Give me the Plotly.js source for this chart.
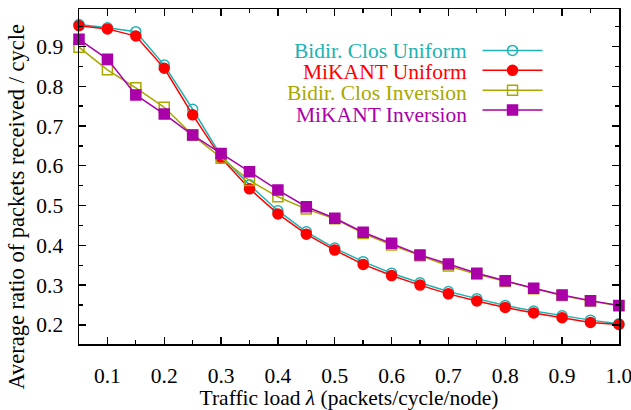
<!DOCTYPE html>
<html>
<head>
<meta charset="utf-8">
<script src="https://cdn.plot.ly/plotly-3.0.1.min.js"></script>
<style>
html,body{margin:0;padding:0;background:#fff;}
#chart{width:631px;height:410px;}
#chart text{font-family:"Times New Roman","Liberation Serif","DejaVu Serif",serif !important;}
</style>
</head>
<body>
<div id="chart"></div>
<script>
const load = [0.05,0.10,0.15,0.20,0.25,0.30,0.35,0.40,0.45,0.50,0.55,0.60,0.65,0.70,0.75,0.80,0.85,0.90,0.95,1.00];
const closUniform   = [0.955,0.947,0.937,0.853,0.742,0.625,0.552,0.487,0.434,0.393,0.359,0.330,0.306,0.284,0.266,0.249,0.235,0.223,0.212,0.203];
const mikantUniform = [0.952,0.944,0.926,0.845,0.728,0.620,0.542,0.479,0.428,0.388,0.352,0.324,0.300,0.278,0.260,0.244,0.230,0.218,0.206,0.201];
const closInversion = [0.898,0.841,0.796,0.747,0.677,0.619,0.563,0.522,0.491,0.467,0.430,0.401,0.374,0.348,0.327,0.309,0.291,0.274,0.260,0.248];
const mikantInversion=[0.918,0.868,0.778,0.730,0.677,0.631,0.585,0.539,0.497,0.468,0.433,0.405,0.376,0.353,0.330,0.311,0.292,0.275,0.261,0.249];
const seriesNames = ["Bidir. Clos Uniform","MiKANT Uniform","Bidir. Clos Inversion","MiKANT Inversion"];
const xTicks = [0.1,0.2,0.3,0.4,0.5,0.6,0.7,0.8,0.9,1.0];
const yTicks = [0.2,0.3,0.4,0.5,0.6,0.7,0.8,0.9];

const colors = ["#20b2b2","#ff0000","#a8a800","#aa00aa"];
const symbols = ["circle-open","circle","square-open","square"];
const sizes = [10,10,10,10];
const data = [closUniform, mikantUniform, closInversion, mikantInversion];

const traces = data.map((ys,i)=>({
  x: load, y: ys, type:"scatter", mode:"lines+markers",
  name: " ", cliponaxis:false,
  line:{color:colors[i], width:1.5},
  marker:{symbol:symbols[i], size:sizes[i], color:colors[i], line:{color:colors[i], width:1.5}},
  showlegend:true
}));

const serif = "Times New Roman";
const legendRowsY = [0.8755,0.811,0.7484,0.6836];
const annotations = seriesNames.map((t,i)=>({
  text:t, xref:"paper", yref:"paper", x:0.7222, y:legendRowsY[i],
  xanchor:"right", yanchor:"middle", showarrow:false,
  font:{family:serif, size:21.5, color:colors[i]}
}));
annotations.push({
  text:"Average ratio of packets received / cycle", xref:"paper", yref:"paper",
  x:-0.115, y:0.41, xanchor:"center", yanchor:"middle", showarrow:false, textangle:-90,
  font:{family:serif, size:22.5, color:"#000"}
});

const layout = {
  width:631, height:410,
  margin:{l:79, r:12, t:9, b:66},
  paper_bgcolor:"#fff", plot_bgcolor:"#fff",
  font:{family:serif, size:21.5, color:"#000"},
  showlegend:true,
  legend:{x:0.738, y:0.921, xanchor:"left", yanchor:"top", itemwidth:60,
          font:{family:serif, size:13}, bgcolor:"rgba(0,0,0,0)", borderwidth:0, tracegroupgap:0},
  xaxis:{
    range:[0.05,1.0002], tickvals:xTicks, tickformat:".1f", ticklabeloverflow:"allow",
    ticks:"inside", ticklen:7, tickwidth:1.3, tickcolor:"#000",
    minor:{dtick:0.05, tick0:0, ticks:"inside", ticklen:4, tickwidth:1.3, tickcolor:"#000"},
    showline:true, linecolor:"#000", linewidth:1.5, mirror:"ticks",
    showgrid:false, zeroline:false, ticklabelstandoff:12,
    title:{text:"Traffic load <i>λ</i> (packets/cycle/node)", font:{family:serif, size:21.5}, standoff:13}
  },
  yaxis:{
    range:[0.152,0.994], tickvals:yTicks, tickformat:".1f",
    ticks:"inside", ticklen:7, tickwidth:1.3, tickcolor:"#000",
    minor:{dtick:0.05, tick0:0, ticks:"inside", ticklen:4, tickwidth:1.3, tickcolor:"#000"},
    showline:true, linecolor:"#000", linewidth:1.5, mirror:"ticks",
    showgrid:false, zeroline:false, ticklabelstandoff:10
  },
  annotations:annotations
};
Plotly.newPlot("chart", traces, layout, {displayModeBar:false, staticPlot:true});
</script>
</body>
</html>
